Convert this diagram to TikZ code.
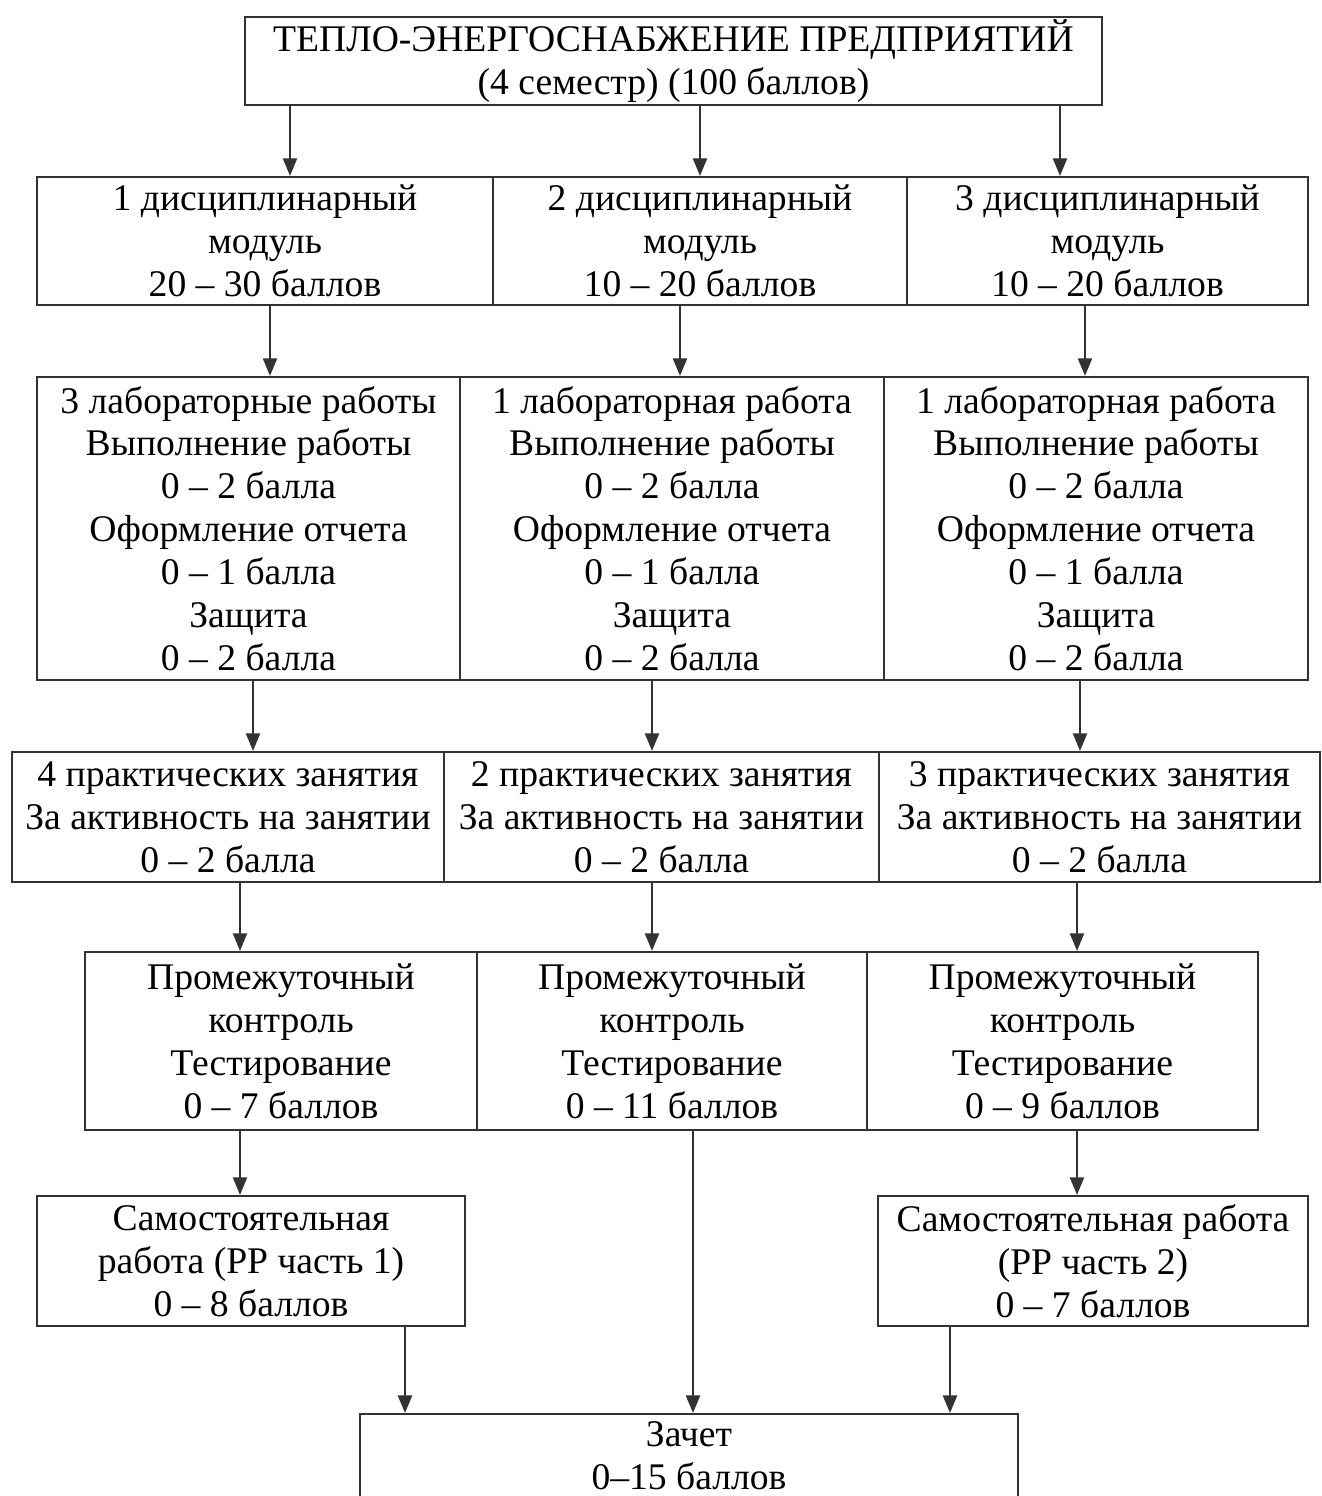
\documentclass[tikz,border=0pt]{standalone}
\usepackage{fontspec}
\setmainfont{Liberation Serif}
\usetikzlibrary{arrows.meta}
\tikzset{
  blk/.style={rectangle, draw=black!80, line width=0.6pt, align=center,
    inner sep=0pt, font=\fontsize{10.7}{12.2}\selectfont},
  edge/.style={-{Triangle[length=5pt,width=4pt]}, line width=0.6pt, black!80},
}
\begin{document}
\begin{tikzpicture}[x=0.01cm, y=-0.01cm]
\useasboundingbox (0,0) rectangle (1322,1496);

\def\yone{241}
\def\ytwo{528.5}
\def\ythree{817}
\def\yfour{1041}
\def\yfive{1261}

% ── head ───────────────────────────────────────────────────────────────────
\node[blk, minimum width=8.57cm, minimum height=0.88cm] (head) at (673.5,61)
  {ТЕПЛО-ЭНЕРГОСНАБЖЕНИЕ ПРЕДПРИЯТИЙ\\(4 семестр) (100 баллов)};

% ── row 1: modules ─────────────────────────────────────────────────────────
\node[blk, minimum width=4.56cm, minimum height=1.28cm] (m1) at (265,\yone)
  {1 дисциплинарный\\модуль\\20 -- 30 баллов};
\node[blk, minimum width=4.14cm, minimum height=1.28cm] (m2) at (700,\yone)
  {2 дисциплинарный\\модуль\\10 -- 20 баллов};
\node[blk, minimum width=4.01cm, minimum height=1.28cm] (m3) at (1107.5,\yone)
  {3 дисциплинарный\\модуль\\10 -- 20 баллов};

% ── row 2: labs ────────────────────────────────────────────────────────────
\node[blk, minimum width=4.23cm, minimum height=3.03cm] (l1) at (248.5,\ytwo)
  {3 лабораторные работы\\Выполнение работы\\0 -- 2 балла\\Оформление отчета\\0 -- 1 балла\\Защита\\0 -- 2 балла};
\node[blk, minimum width=4.24cm, minimum height=3.03cm] (l2) at (672,\ytwo)
  {1 лабораторная работа\\Выполнение работы\\0 -- 2 балла\\Оформление отчета\\0 -- 1 балла\\Защита\\0 -- 2 балла};
\node[blk, minimum width=4.24cm, minimum height=3.03cm] (l3) at (1096,\ytwo)
  {1 лабораторная работа\\Выполнение работы\\0 -- 2 балла\\Оформление отчета\\0 -- 1 балла\\Защита\\0 -- 2 балла};

% ── row 3: practicals ──────────────────────────────────────────────────────
\node[blk, minimum width=4.32cm, minimum height=1.30cm] (p1) at (228,\ythree)
  {4 практических занятия\\За активность на занятии\\0 -- 2 балла};
\node[blk, minimum width=4.35cm, minimum height=1.30cm] (p2) at (661.5,\ythree)
  {2 практических занятия\\За активность на занятии\\0 -- 2 балла};
\node[blk, minimum width=4.41cm, minimum height=1.30cm] (p3) at (1099.5,\ythree)
  {3 практических занятия\\За активность на занятии\\0 -- 2 балла};

% ── row 4: tests ───────────────────────────────────────────────────────────
\node[blk, minimum width=3.92cm, minimum height=1.78cm] (k1) at (281,\yfour)
  {Промежуточный\\контроль\\Тестирование\\0 -- 7 баллов};
\node[blk, minimum width=3.90cm, minimum height=1.78cm] (k2) at (672,\yfour)
  {Промежуточный\\контроль\\Тестирование\\0 -- 11 баллов};
\node[blk, minimum width=3.91cm, minimum height=1.78cm] (k3) at (1062.5,\yfour)
  {Промежуточный\\контроль\\Тестирование\\0 -- 9 баллов};

% ── row 5: self-study ──────────────────────────────────────────────────────
\node[blk, minimum width=4.28cm, minimum height=1.30cm] (s1) at (251,\yfive)
  {Самостоятельная\\работа (РР часть 1)\\0 -- 8 баллов};
\node[blk, minimum width=4.30cm, minimum height=1.30cm] (s2) at (1093,\yfive)
  {Самостоятельная работа\\(РР часть 2)\\0 -- 7 баллов};

% ── credit (cut off by the page edge) ──────────────────────────────────────
\node[blk, anchor=north, minimum width=6.58cm, minimum height=1.42cm,
  text depth=0.6cm] (zach) at (689,1413)
  {Зачет\\0--15 баллов};

% ── arrows ─────────────────────────────────────────────────────────────────
\draw[edge] (290,0 |- head.south) -- (290,0 |- m1.north);
\draw[edge] (700,0 |- head.south) -- (700,0 |- m2.north);
\draw[edge] (1060,0 |- head.south) -- (1060,0 |- m3.north);

\draw[edge] (270,0 |- m1.south) -- (270,0 |- l1.north);
\draw[edge] (680,0 |- m2.south) -- (680,0 |- l2.north);
\draw[edge] (1085,0 |- m3.south) -- (1085,0 |- l3.north);

\draw[edge] (253,0 |- l1.south) -- (253,0 |- p1.north);
\draw[edge] (652,0 |- l2.south) -- (652,0 |- p2.north);
\draw[edge] (1080,0 |- l3.south) -- (1080,0 |- p3.north);

\draw[edge] (240,0 |- p1.south) -- (240,0 |- k1.north);
\draw[edge] (652,0 |- p2.south) -- (652,0 |- k2.north);
\draw[edge] (1077,0 |- p3.south) -- (1077,0 |- k3.north);

\draw[edge] (240,0 |- k1.south) -- (240,0 |- s1.north);
\draw[edge] (1077,0 |- k3.south) -- (1077,0 |- s2.north);

\draw[edge] (405,0 |- s1.south) -- (405,0 |- zach.north);
\draw[edge] (693,0 |- k2.south) -- (693,0 |- zach.north);
\draw[edge] (950,0 |- s2.south) -- (950,0 |- zach.north);

\end{tikzpicture}
\end{document}
